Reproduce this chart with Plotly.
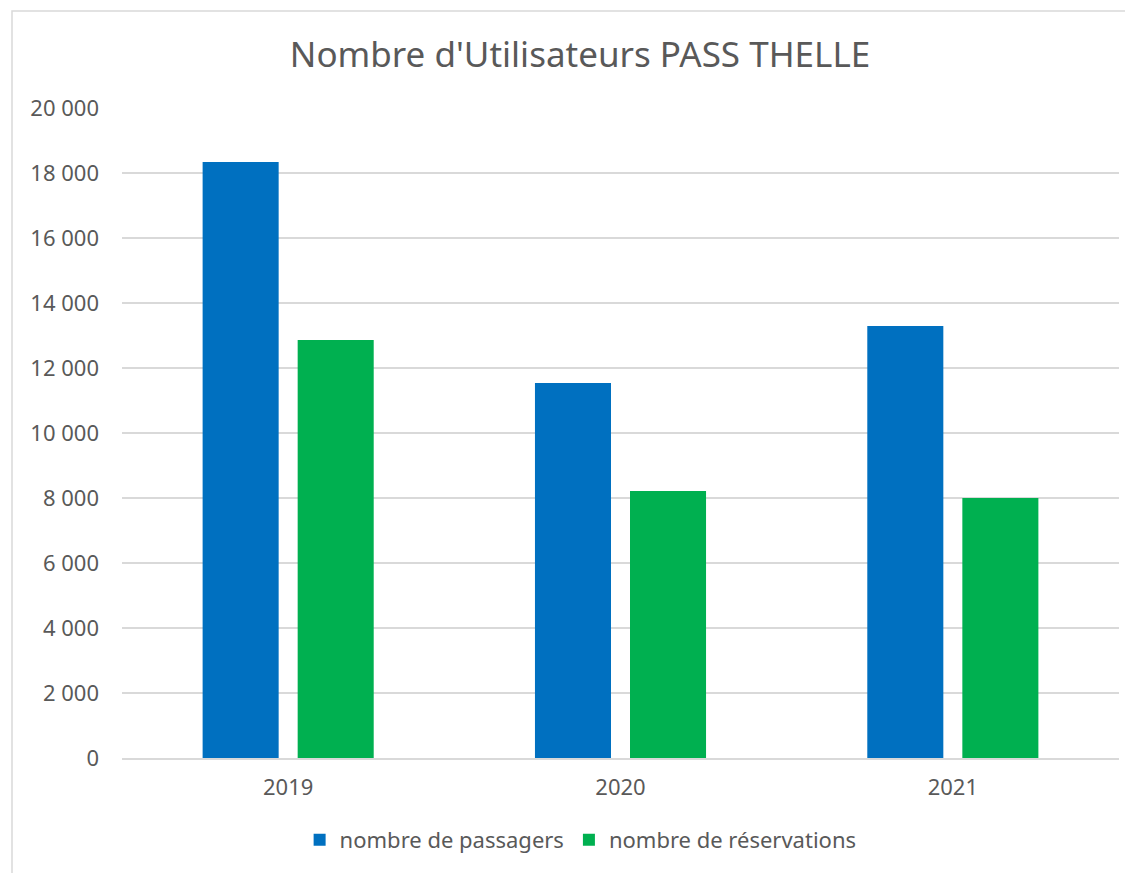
import plotly.graph_objects as go

# donnees
annees = ["2019", "2020", "2021"]
passagers = [18340, 11540, 13290]
reservations = [12860, 8215, 8000]
y_ticks = [0, 2000, 4000, 6000, 8000, 10000, 12000, 14000, 16000, 18000, 20000]

font_name = "Noto Sans"
gris = "#595959"

# la page html ajoute 8px de marge autour du graphique
off = 8

fig = go.Figure()
fig.add_trace(go.Bar(x=annees, y=passagers, name="nombre de passagers",
                     marker=dict(color="#0070C0", line=dict(width=0))))
fig.add_trace(go.Bar(x=annees, y=reservations, name="nombre de réservations",
                     marker=dict(color="#00B050", line=dict(width=0))))

fig.update_layout(
    width=1133, height=873,
    margin=dict(l=122-off, r=14+off, t=108-off, b=115+off),
    paper_bgcolor="white", plot_bgcolor="white",
    font=dict(family=font_name, color=gris, size=22),
    separators=", ",
    barmode="group", bargap=0.428, bargroupgap=0.2,
    title=dict(text="Nombre d'Utilisateurs PASS THELLE", x=(580-off)/1133, xanchor="center",
               xref="container", yref="container", y=1-(55-off)/873, yanchor="middle",
               font=dict(size=35, color=gris, family=font_name)),
    legend=dict(orientation="h", x=0.46, xanchor="center", y=-0.126, yanchor="middle",
                font=dict(size=22, color=gris), itemwidth=30, traceorder="normal"),
    showlegend=True,
)
fig.update_yaxes(range=[0, 20000], tickvals=y_ticks, tickformat=",d",
                 showgrid=True, gridcolor="#D9D9D9", gridwidth=1.5,
                 zeroline=False, showline=False, ticks="", ticklabelstandoff=22,
                 tickfont=dict(size=22))
fig.update_xaxes(showline=True, linecolor="#D9D9D9", linewidth=1.5, ticks="",
                 ticklabelstandoff=9, tickfont=dict(size=22))

# cadre du graphique
fig.add_shape(type="rect", xref="paper", yref="paper",
              x0=(12-122)/997, x1=(1145-122)/997, y0=(758-885)/650, y1=(758-11)/650,
              line=dict(color="#D9D9D9", width=1.5), fillcolor="rgba(0,0,0,0)", layer="below")

fig.write_html("out.html")
